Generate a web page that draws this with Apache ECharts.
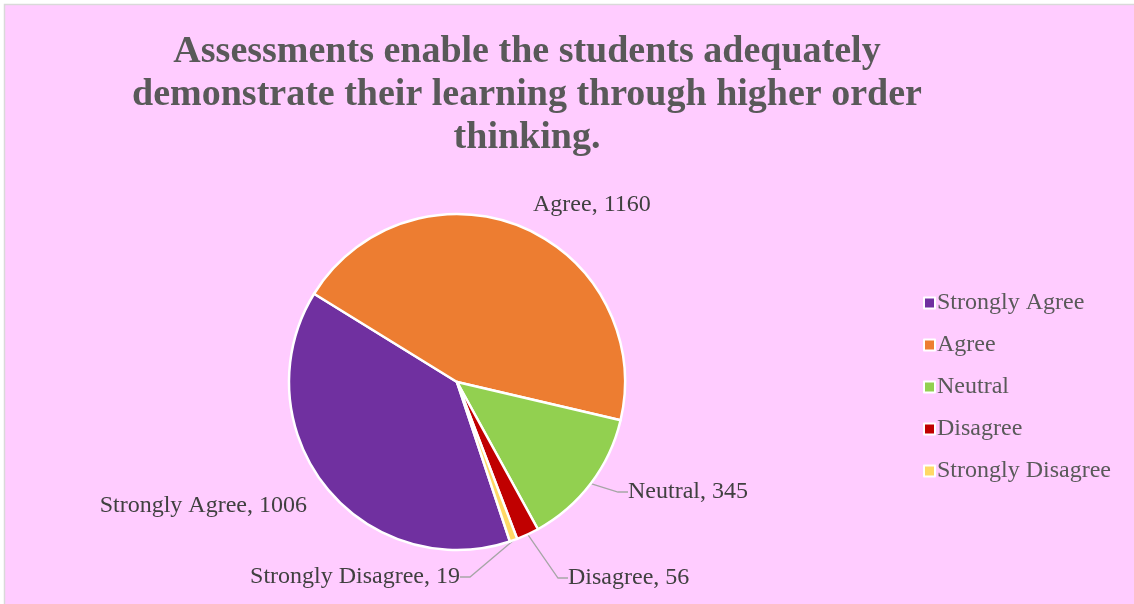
<!DOCTYPE html>
<html>
<head>
<meta charset="utf-8">
<script src="https://cdn.jsdelivr.net/npm/echarts@6/dist/echarts.min.js"></script>
<style>
html,body{margin:0;padding:0;background:#ffffff;}
#chart{width:1134px;height:604px;}
</style>
</head>
<body>
<div id="chart"></div>
<script>
const titleText = 'Assessments enable the students adequately\ndemonstrate their learning through higher order\nthinking.';
const categories = ['Strongly Agree', 'Agree', 'Neutral', 'Disagree', 'Strongly Disagree'];
const values = [1006, 1160, 345, 56, 19];
const colors = ['#7030A0', '#ED7D31', '#92D050', '#C00000', '#FFD966'];

// label anchor placements (styling only)
const labelPlaces = [
  {x: 307, y: 506, align: 'right', line: false},
  {x: 533, y: 205, align: 'left', line: false},
  {x: 628, y: 492, align: 'left', line: true},
  {x: 568, y: 578, align: 'left', line: true},
  {x: 460, y: 577, align: 'right', line: true}
];

const chart = echarts.init(document.getElementById('chart'), null, {renderer: 'canvas'});
const total = values.reduce((a, b) => a + b, 0);
const startAngle = 148.3 + values[0] / total * 360;

chart.setOption({
  backgroundColor: '#ffffff',
  animation: false,
  graphic: [{
    type: 'rect', z: -10, silent: true,
    shape: {x: 4.5, y: 4.5, width: 1140, height: 610},
    style: {fill: '#FFCCFF', stroke: '#D9D9D9', lineWidth: 1.5}
  }],
  title: {
    text: titleText,
    left: 522, top: 26, textAlign: 'center',
    textStyle: {
      fontFamily: 'Liberation Serif', fontWeight: 'bold', fontSize: 38,
      color: '#595959', lineHeight: 43
    }
  },
  legend: {
    orient: 'vertical',
    left: 918, top: 286,
    itemWidth: 11, itemHeight: 11,
    itemGap: 18,
    icon: 'rect',
    textStyle: {fontFamily: 'Liberation Serif', fontSize: 24, color: '#595959', lineHeight: 24, padding: [0, 0, 0, -3]},
    data: categories
  },
  series: [{
    type: 'pie',
    center: [457, 382],
    radius: [0, 168],
    clockwise: true,
    startAngle: startAngle,
    avoidLabelOverlap: false,
    itemStyle: {borderColor: '#ffffff', borderWidth: 2.5},
    label: {
      show: true,
      formatter: '{b}, {c}',
      fontFamily: 'Liberation Serif', fontSize: 24, color: '#404040'
    },
    labelLine: {show: true, length: 10, length2: 10, lineStyle: {color: '#A6A6A6', width: 1.3}},
    labelLayout: function (p) {
      const lp = labelPlaces[p.dataIndex];
      return {x: lp.x, y: lp.y, align: lp.align, verticalAlign: 'middle'};
    },
    data: categories.map((c, i) => ({
      name: c, value: values[i],
      itemStyle: {color: colors[i]},
      labelLine: {show: labelPlaces[i].line}
    }))
  }]
});
</script>
</body>
</html>
